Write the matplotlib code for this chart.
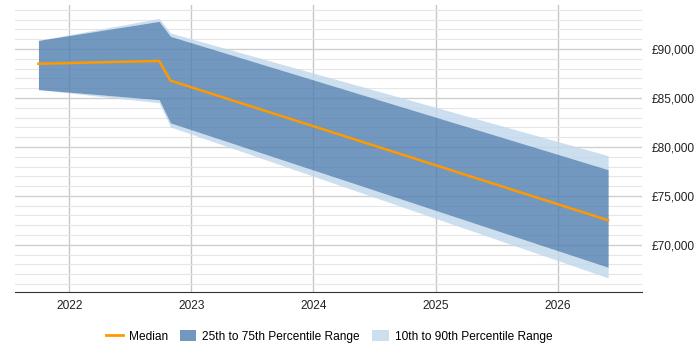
import matplotlib
matplotlib.use("Agg")
import matplotlib.pyplot as plt
import matplotlib.dates as mdates
from matplotlib.ticker import FuncFormatter, MultipleLocator
from matplotlib.patches import Patch
from matplotlib.lines import Line2D
import datetime as dt

plt.rcParams['font.family'] = ['Liberation Sans', 'DejaVu Sans']

dates = [dt.date(2021, 10, 1), dt.date(2022, 9, 27), dt.date(2022, 10, 31), dt.date(2026, 6, 1)]
p10 = [85850, 84510, 82040, 66630]
p25 = [85850, 84820, 82450, 67710]
median = [88490, 88780, 86770, 72510]
p75 = [90880, 92820, 91290, 77680]
p90 = [90880, 93120, 91630, 79110]

fig = plt.figure(figsize=(7, 3.5), dpi=100)
ax = fig.add_axes([0.021, 0.166, 0.896, 0.82])

c_light = '#c0d7ec'
c_dark = '#507fb0'
c_med = '#ff9900'
a = 0.8

ax.fill_between(dates, p10, p25, color=c_light, alpha=a, lw=0, zorder=2)
ax.fill_between(dates, p75, p90, color=c_light, alpha=a, lw=0, zorder=2)
ax.fill_between(dates, p25, p75, color=c_dark, alpha=a, lw=0, zorder=3)
ax.plot(dates, median, color=c_med, lw=1.8, zorder=4)

ax.set_xlim(dt.date(2021, 7, 22), dt.date(2026, 9, 10))
ax.set_ylim(65200, 94500)

ax.xaxis.set_major_locator(mdates.YearLocator())
ax.xaxis.set_major_formatter(mdates.DateFormatter('%Y'))
ax.yaxis.set_major_locator(MultipleLocator(5000))
ax.yaxis.set_minor_locator(MultipleLocator(1000))
ax.yaxis.set_major_formatter(FuncFormatter(lambda v, p: f"£{v:,.0f}"))
ax.yaxis.tick_right()

ax.grid(axis='x', which='major', color='#c8c8c8', lw=1, zorder=1)
ax.grid(axis='y', which='major', color='#d0d0d0', lw=1, zorder=1)
ax.grid(axis='y', which='minor', color='#e6e6e6', lw=0.8, zorder=1)
ax.set_axisbelow(True)

for s in ['top', 'left', 'right']:
    ax.spines[s].set_visible(False)
ax.spines['bottom'].set_color('#333333')
ax.tick_params(axis='both', which='both', length=0, labelsize=8.6, colors='#222222')
ax.tick_params(axis='y', pad=7)
ax.tick_params(axis='x', pad=6)

handles = [Line2D([0], [0], color=c_med, lw=2),
           Patch(facecolor=c_dark, alpha=a, edgecolor='none'),
           Patch(facecolor=c_light, alpha=a, edgecolor='none')]
labels = ['Median', '25th to 75th Percentile Range', '10th to 90th Percentile Range']
fig.legend(handles, labels, loc='lower center', bbox_to_anchor=(0.47, -0.01), ncol=3,
           frameon=False, fontsize=8.6, handlelength=1.4, handleheight=1.1, columnspacing=1.0,
           handletextpad=0.5)

fig.savefig('out.png', dpi=100)
